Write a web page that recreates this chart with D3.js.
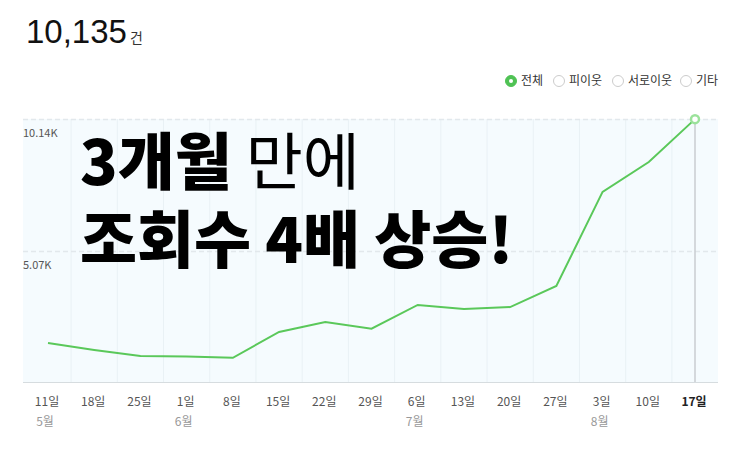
<!DOCTYPE html>
<html>
<head>
<meta charset="utf-8">
<script src="https://cdn.jsdelivr.net/npm/d3@7"></script>
<style>
	body { margin: 0; background: #fff; }
	text { font-family: "Noto Sans CJK KR", "Noto Sans", sans-serif; }
</style>
</head>
<body>
<script>

var width = 743,
	height = 449;

// weekly views, May 11 -> Aug 17
var days = ["11일", "18일", "25일", "1일", "8일", "15일", "22일", "29일", "6일", "13일", "20일", "27일", "3일", "10일", "17일"];
var months = ["5월", "", "", "6월", "", "", "", "", "7월", "", "", "", "8월", "", ""];
var views = [1500, 1235, 1005, 985, 935, 1930, 2315, 2055, 2970, 2815, 2890, 3700, 7330, 8480, 10135];
var yTicks = [5070, 10140];
var yTickLabels = ["5.07K", "10.14K"];
var legendItems = ["전체", "피이웃", "서로이웃", "기타"];

var plotLeft = 23, plotRight = 718, plotTop = 119, plotBottom = 382;

var svg = d3.select("body").append("svg")
	.attr("width", width)
	.attr("height", height);

var x = d3.scalePoint()
	.domain(d3.range(days.length))
	.range([48, 695]);

var y = d3.scaleLinear()
	.domain([0, 10140])
	.range([plotBottom, plotTop]);

var step = x.step();

// header
var head = svg.append("text").attr("x", 26).attr("y", 43).attr("fill", "#111");
head.append("tspan").attr("font-size", 33).attr("font-family", "'Liberation Sans', Arial, sans-serif").text("10,135");
head.append("tspan").attr("font-size", 14).attr("dx", 3).attr("fill", "#333").text("건");

// legend
var legendX = [511, 559, 618, 686];
var lg = svg.append("g").selectAll("g")
	.data(legendItems)
  .enter().append("g")
	.attr("transform", function(d, i) { return "translate(" + legendX[i] + ",81)"; });
lg.append("circle")
	.attr("r", 5.5)
	.attr("fill", function(d, i) { return i === 0 ? "#4fc254" : "#fff"; })
	.attr("stroke", function(d, i) { return i === 0 ? "#4fc254" : "#ccc"; })
	.attr("stroke-width", 1);
lg.filter(function(d, i) { return i === 0; }).append("circle")
	.attr("r", 2).attr("fill", "#fff");
lg.append("text")
	.attr("x", 10)
	.attr("dy", "0.35em")
	.attr("font-size", 12)
	.attr("fill", "#333")
	.text(function(d) { return d; });

// plot background
svg.append("rect")
	.attr("x", plotLeft).attr("y", plotTop)
	.attr("width", plotRight - plotLeft).attr("height", plotBottom - plotTop)
	.attr("fill", "#f5fbfe");

// vertical grid between weeks
svg.append("g").selectAll("line")
	.data(d3.range(days.length - 1))
  .enter().append("line")
	.attr("x1", function(i) { return x(i) + step / 2; })
	.attr("x2", function(i) { return x(i) + step / 2; })
	.attr("y1", plotTop).attr("y2", plotBottom)
	.attr("stroke", "#e9f1f5");

// horizontal dashed grid
svg.append("g").selectAll("line")
	.data(yTicks)
  .enter().append("line")
	.attr("x1", plotLeft).attr("x2", plotRight)
	.attr("y1", function(d) { return Math.round(y(d)) + 0.5; })
	.attr("y2", function(d) { return Math.round(y(d)) + 0.5; })
	.attr("stroke", "#e2e8ec")
	.attr("stroke-width", 1.5)
	.attr("stroke-dasharray", "5,3");

svg.append("g").selectAll("text")
	.data(yTicks)
  .enter().append("text")
	.attr("x", plotLeft)
	.attr("y", function(d) { return y(d) + 18; })
	.attr("font-size", 11)
	.attr("font-family", "'Liberation Sans', Arial, sans-serif")
	.attr("fill", "#555")
	.text(function(d, i) { return yTickLabels[i]; });

// baseline
svg.append("line")
	.attr("x1", plotLeft).attr("x2", plotRight)
	.attr("y1", plotBottom + 0.5).attr("y2", plotBottom + 0.5)
	.attr("stroke", "#d6dcdf");

// hover line at last point
var last = days.length - 1;
svg.append("line")
	.attr("x1", x(last)).attr("x2", x(last))
	.attr("y1", plotTop).attr("y2", plotBottom)
	.attr("stroke", "#c9cdd0")
	.attr("stroke-width", 1.5);

// line
var line = d3.line()
	.x(function(d, i) { return x(i); })
	.y(function(d) { return y(d); });

svg.append("path")
	.datum(views)
	.attr("d", line)
	.attr("fill", "none")
	.attr("stroke", "#5ac85a")
	.attr("stroke-width", 2);

svg.append("circle")
	.attr("cx", x(last)).attr("cy", y(views[last]))
	.attr("r", 4)
	.attr("fill", "#fff")
	.attr("stroke", "#9be29b")
	.attr("stroke-width", 2.5);

// x labels
svg.append("g").selectAll("text")
	.data(days)
  .enter().append("text")
	.attr("x", function(d, i) { return x(i) - 1; })
	.attr("y", 406)
	.attr("text-anchor", "middle")
	.attr("font-size", 12)
	.attr("font-weight", function(d, i) { return i === last ? 700 : 400; })
	.attr("fill", function(d, i) { return i === last ? "#222" : "#555"; })
	.text(function(d) { return d; });

svg.append("g").selectAll("text")
	.data(months)
  .enter().append("text")
	.attr("x", function(d, i) { return x(i) - 3; })
	.attr("y", 426)
	.attr("text-anchor", "middle")
	.attr("font-size", 12)
	.attr("fill", "#999")
	.text(function(d) { return d; });

// overlay caption
var cap = svg.append("g").attr("fill", "#000");
var l1 = cap.append("text").attr("x", 80).attr("y", 185).attr("font-size", 62);
l1.append("tspan").attr("font-weight", 900).text("3개월");
l1.append("tspan").attr("font-weight", 400).text(" 만에");
cap.append("text").attr("x", 80).attr("y", 263).attr("font-size", 62)
	.attr("font-weight", 900)
	.text("조회수 4배 상승!");

</script>
</body>
</html>
